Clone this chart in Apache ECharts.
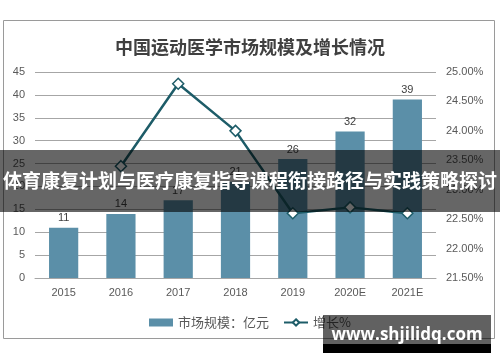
<!DOCTYPE html>
<html><head><meta charset="utf-8">
<script src="https://cdn.jsdelivr.net/npm/echarts@6/dist/echarts.min.js"></script>
<style>html,body{margin:0;padding:0;background:#fff}#c{width:500px;height:362px}</style>
</head><body><div id="c"></div>
<script>
const categories = ['2015','2016','2017','2018','2019','2020E','2021E'];
const marketSize = [11, 14, 17, 21, 26, 32, 39];
const growth = [null, 23.4, 24.8, 24.0, 22.6, 22.7, 22.6];
const leftTicks = {min: 0, max: 45, interval: 5};
const rightTicks = {min: 21.5, max: 25, interval: 0.5};
const titleText = '中国运动医学市场规模及增长情况';
const seriesNames = ['市场规模：亿元', '增长%'];
const bannerText = '体育康复计划与医疗康复指导课程衔接路径与实践策略探讨';
const watermarkText = 'www.shjilidq.com';

const chart = echarts.init(document.getElementById('c'), null, {renderer: 'canvas'});
const txt = '#595959';
chart.setOption({
  animation: false,
  textStyle: {fontFamily: 'Liberation Sans, Arial, sans-serif'},
  title: {text: titleText, left: 'center', top: 33,
    textStyle: {fontFamily: 'Noto Sans CJK SC', fontSize: 18, fontWeight: 'bold', color: '#404040'}},
  grid: {left: 35, right: 64, top: 72, bottom: 84},
  legend: {top: 311, left: 'center', itemWidth: 24, itemHeight: 8, itemGap: 14,
    textStyle: {fontFamily: 'Noto Sans CJK SC', fontSize: 13, color: txt},
    data: [{name: seriesNames[0], icon: 'rect'}, {name: seriesNames[1]}]},
  xAxis: {type: 'category', data: categories,
    axisLine: {lineStyle: {color: '#a6a6a6'}}, axisTick: {show: false},
    axisLabel: {color: txt, fontSize: 11, margin: 9}},
  yAxis: [
    {type: 'value', min: leftTicks.min, max: leftTicks.max, interval: leftTicks.interval,
      axisLine: {show: false}, axisTick: {show: false},
      axisLabel: {color: txt, fontSize: 11, margin: 10, align: 'right'},
      splitLine: {lineStyle: {color: '#a6a6a6', width: 1}}},
    {type: 'value', min: rightTicks.min, max: rightTicks.max, interval: rightTicks.interval,
      axisLine: {show: false}, axisTick: {show: false},
      axisLabel: {color: txt, fontSize: 11, margin: 10, formatter: v => v.toFixed(2) + '%'},
      splitLine: {show: false}}
  ],
  series: [
    {name: seriesNames[0], type: 'bar', data: marketSize, barWidth: '51%',
      itemStyle: {color: '#5b8fa8'},
      label: {show: true, position: 'top', color: '#404040', fontSize: 11, distance: 4}},
    {name: seriesNames[1], type: 'line', yAxisIndex: 1, data: growth,
      symbol: 'diamond', symbolSize: 11, showAllSymbol: true,
      lineStyle: {color: '#1d5c68', width: 2.5},
      itemStyle: {color: '#ffffff', borderColor: '#1d5c68', borderWidth: 1.5}}
  ],
  graphic: [
    {type: 'rect', shape: {x: 3.5, y: 20.5, width: 491, height: 318}, z: -1,
      style: {fill: 'none', stroke: '#9a9a9a', lineWidth: 1}},
    {type: 'rect', shape: {x: 0, y: 150, width: 500, height: 62}, z: 100,
      style: {fill: 'rgba(0,0,0,0.6)'}},
    {type: 'text', x: 250, y: 181, z: 101,
      style: {text: bannerText, fill: '#ffffff', font: 'bold 19px "Noto Sans CJK SC"',
        align: 'center', verticalAlign: 'middle'}},
    {type: 'rect', shape: {x: 323, y: 315, width: 168, height: 29}, z: 100,
      style: {fill: 'rgba(0,0,0,0.62)'}},
    {type: 'rect', shape: {x: 323, y: 344, width: 168, height: 9}, z: 100,
      style: {fill: '#000000'}},
    {type: 'text', x: 407, y: 335, z: 101,
      style: {text: watermarkText, fill: '#ffffff', font: 'bold 17px "Open Sans"',
        align: 'center', verticalAlign: 'middle'}}
  ]
});
</script></body></html>
